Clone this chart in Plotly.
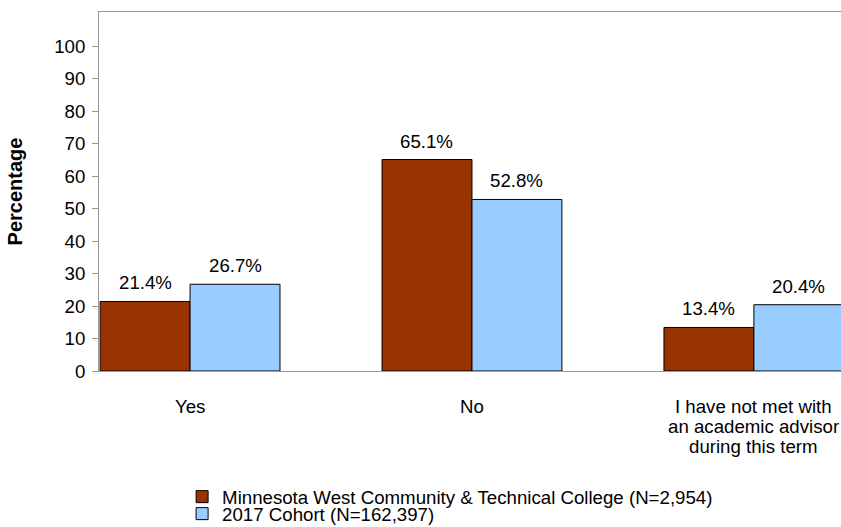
import plotly.graph_objects as go

categories = ["Yes", "No", "I have not met with<br>an academic advisor<br>during this term"]
college_values = [21.4, 65.1, 13.4]
cohort_values = [26.7, 52.8, 20.4]
college_name = "Minnesota West Community & Technical College (N=2,954)"
cohort_name = "2017 Cohort (N=162,397)"
y_ticks = [0, 10, 20, 30, 40, 50, 60, 70, 80, 90, 100]

FONT = "Liberation Sans, Arial, sans-serif"
FS = 18.67

fig = go.Figure()
fig.add_trace(go.Bar(
    x=categories, y=college_values, name=college_name, legend="legend",
    marker=dict(color="#993300", line=dict(color="black", width=1)),
))
fig.add_trace(go.Bar(
    x=categories, y=cohort_values, name=cohort_name, legend="legend2",
    marker=dict(color="#99CCFF", line=dict(color="black", width=1)),
))

# value labels above bars
for vals, shift in ((college_values, -45), (cohort_values, 45)):
    for cat, v in zip(categories, vals):
        fig.add_annotation(x=cat, y=v, xref="x", yref="y", text=f"{v:.1f}%",
                           showarrow=False, xshift=shift, yanchor="bottom",
                           yshift=6, font=dict(size=FS, color="black"))

# category labels (tight line spacing like the reference)
for cat in categories:
    for i, line in enumerate(cat.split("<br>")):
        fig.add_annotation(x=cat, y=0, xref="x", yref="y", text=line,
                           showarrow=False, yanchor="middle",
                           yshift=-35.5 - 20 * i, font=dict(size=FS, color="black"))

leg_common = dict(x=0.112, xanchor="left", yanchor="middle", yref="container",
                  font=dict(size=FS), itemclick=False, bgcolor="rgba(0,0,0,0)")

fig.update_layout(
    width=841, height=527,
    margin=dict(l=99, r=0, t=12, b=156, autoexpand=False),
    paper_bgcolor="white", plot_bgcolor="white",
    font=dict(family=FONT, size=FS, color="black"),
    barmode="group", bargap=0.362, bargroupgap=0,
    showlegend=True,
    legend=dict(y=1 - 497 / 527, **leg_common),
    legend2=dict(y=1 - 514 / 527, **leg_common),
    xaxis=dict(
        type="category", range=[-0.323, 2.309],
        showline=True, linecolor="#999999", linewidth=1, mirror=True,
        ticks="", showticklabels=False, showgrid=False,
    ),
    yaxis=dict(
        range=[0, 110.5], tickvals=y_ticks,
        showline=True, linecolor="#999999", linewidth=1,
        ticks="outside", ticklen=6, tickcolor="#999999", ticklabelstandoff=3,
        showgrid=False, zeroline=False, tickfont=dict(size=FS),
        title=dict(text="<b>Percentage</b>", font=dict(size=20), standoff=26),
    ),
)

fig.write_html("out.html", config={"displayModeBar": False},
               post_script="document.body.style.margin='0';document.body.style.overflow='hidden';")
